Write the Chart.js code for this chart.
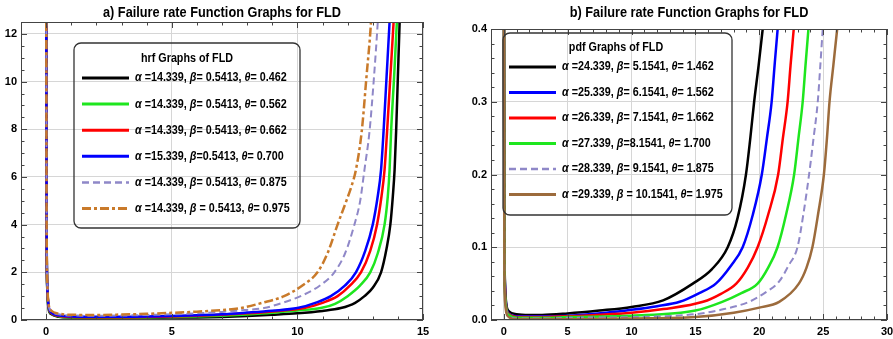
<!DOCTYPE html>
<html>
<head>
<meta charset="utf-8">
<title>Failure rate Function Graphs for FLD</title>
<script src="https://cdn.jsdelivr.net/npm/chart.js@4.4.1/dist/chart.umd.min.js"></script>
<style>
  html, body { margin: 0; padding: 0; background: #fff; }
  #wrap { position: relative; width: 893px; height: 339px; overflow: hidden; }
  #wrap canvas { position: absolute; top: 0; }
  #hrfChart { left: 0; }
  #pdfChart { left: 446px; }
</style>
</head>
<body>
<div id="wrap">
  <canvas id="hrfChart" width="446" height="339"></canvas>
  <canvas id="pdfChart" width="447" height="339"></canvas>
</div>
<script>
/* =====================
   DATA - panel a (hrf)
===================== */
const hrfLabels = [
    'α =14.339, β= 0.5413, θ= 0.462',
    'α =14.339, β= 0.5413, θ= 0.562',
    'α =14.339, β= 0.5413, θ= 0.662',
    'α =15.339, β=0.5413, θ= 0.700',
    'α =14.339, β= 0.5413, θ= 0.875',
    'α =14.339, β = 0.5413, θ= 0.975',
];
const hrfXTicks = [0, 5, 10, 15];
const hrfYTicks = [0, 2, 4, 6, 8, 10, 12];

const hrfX1 = [0.004, 0.02, 0.05, 0.1, 0.2, 0.5, 1, 2, 3, 4, 5, 6, 7, 8, 9, 10, 11, 11.73, 12.3, 12.67, 13, 13.33, 13.55, 13.7, 13.8, 13.87, 13.93, 14.0, 14.07, 14.12];
const hrfY1 = [14, 3.5, 1.2, 0.45, 0.25, 0.14, 0.1, 0.08, 0.08, 0.09, 0.1, 0.11, 0.13, 0.17, 0.22, 0.28, 0.38, 0.5, 0.72, 1.0, 1.35, 2.0, 3.0, 4.0, 5.2, 6.3, 7.9, 10.2, 12.5, 14];

const hrfX2 = [0.004, 0.02, 0.05, 0.1, 0.2, 0.5, 1, 2, 3, 4, 5, 6, 7, 8, 9, 10, 10.93, 11.5, 12.0, 12.5, 12.9, 13.2, 13.47, 13.6, 13.67, 13.73, 13.85, 13.96, 14.02];
const hrfY2 = [14, 3.6, 1.25, 0.5, 0.28, 0.16, 0.11, 0.1, 0.1, 0.11, 0.13, 0.15, 0.18, 0.23, 0.3, 0.4, 0.5, 0.68, 1.0, 1.45, 2.0, 2.8, 4.0, 5.2, 6.3, 7.9, 10.2, 12.5, 14];

const hrfX3 = [0.004, 0.02, 0.05, 0.1, 0.2, 0.5, 1, 2, 3, 4, 5, 6, 7, 8, 9, 10.27, 11, 11.6, 12.1, 12.53, 12.9, 13.17, 13.35, 13.47, 13.57, 13.7, 13.83, 13.9];
const hrfY3 = [14, 3.7, 1.3, 0.55, 0.3, 0.18, 0.13, 0.12, 0.12, 0.13, 0.15, 0.18, 0.22, 0.28, 0.36, 0.5, 0.72, 1.0, 1.45, 2.0, 2.9, 4.0, 5.2, 6.3, 7.9, 10.2, 12.5, 14];

const hrfX4 = [0.004, 0.02, 0.05, 0.1, 0.2, 0.5, 1, 2, 3, 4, 5, 6, 7, 8, 9, 10, 10.8, 11.33, 11.9, 12.33, 12.7, 13.0, 13.2, 13.33, 13.43, 13.55, 13.67, 13.74];
const hrfY4 = [14, 3.8, 1.35, 0.58, 0.32, 0.2, 0.15, 0.14, 0.14, 0.15, 0.17, 0.2, 0.24, 0.31, 0.39, 0.5, 0.75, 1.0, 1.45, 2.0, 2.9, 4.0, 5.2, 6.3, 7.9, 10.2, 12.5, 14];

const hrfX5 = [0.004, 0.02, 0.05, 0.1, 0.2, 0.5, 1, 2, 3, 4, 5, 6, 7, 7.9, 8.67, 9.4, 10.13, 10.9, 11.47, 11.9, 12.27, 12.5, 12.67, 12.87, 13.05, 13.2, 13.28];
const hrfY5 = [14, 3.9, 1.4, 0.62, 0.36, 0.24, 0.19, 0.18, 0.19, 0.21, 0.24, 0.28, 0.34, 0.42, 0.5, 0.72, 1.0, 1.45, 2.0, 2.8, 4.0, 5.0, 6.3, 7.9, 10.2, 12.5, 14];

const hrfX6 = [0.004, 0.02, 0.05, 0.1, 0.2, 0.5, 1, 2, 3, 4, 5, 6, 7, 7.73, 8.6, 9.47, 10.2, 10.8, 11.2, 11.6, 11.95, 12.15, 12.33, 12.56, 12.75, 12.93, 13.0];
const hrfY6 = [14, 4.0, 1.45, 0.66, 0.4, 0.27, 0.22, 0.21, 0.23, 0.26, 0.3, 0.35, 0.42, 0.5, 0.72, 1.0, 1.45, 2.0, 2.8, 4.0, 5.0, 5.6, 6.3, 7.9, 10.2, 12.5, 14];

/* =====================
   DATA - panel b (pdf)
===================== */
const pdfLabels = [
    'α =24.339, β= 5.1541, θ= 1.462',
    'α =25.339, β= 6.1541, θ= 1.562',
    'α =26.339, β= 7.1541, θ= 1.662',
    'α =27.339, β=8.1541, θ= 1.700',
    'α =28.339, β= 9.1541, θ= 1.875',
    'α =29.339, β = 10.1541, θ= 1.975',
];
const pdfXTicks = [0, 5, 10, 15, 20, 25, 30];
const pdfYTicks = [0, 0.1, 0.2, 0.3, 0.4];

const pdfX1 = [0.01, 0.05, 0.1, 0.2, 0.4, 1, 2, 3, 5, 7.5, 10, 12.47, 14.8, 16.3, 17.53, 18.3, 18.96, 19.3, 19.6, 19.95, 20.27, 20.45];
const pdfY1 = [0.5, 0.12, 0.05, 0.022, 0.012, 0.008, 0.007, 0.007, 0.009, 0.013, 0.018, 0.027, 0.05, 0.07, 0.1, 0.14, 0.2, 0.25, 0.3, 0.35, 0.4, 0.43];

const pdfX2 = [0.01, 0.05, 0.1, 0.2, 0.4, 1, 2, 3, 5, 8, 10, 12, 13.77, 15.3, 16.6, 17.8, 18.7, 19.5, 20.2, 20.6, 20.97, 21.2, 21.44, 21.6];
const pdfY2 = [0.5, 0.11, 0.045, 0.019, 0.009, 0.005, 0.005, 0.005, 0.006, 0.01, 0.014, 0.019, 0.025, 0.037, 0.05, 0.075, 0.1, 0.145, 0.2, 0.25, 0.3, 0.35, 0.4, 0.43];

const pdfX3 = [0.01, 0.05, 0.1, 0.2, 0.4, 1, 2, 3, 5, 10, 12.5, 15.6, 17, 18.2, 19.1, 19.87, 20.7, 21.48, 21.85, 22.22, 22.45, 22.7, 22.85];
const pdfY3 = [0.5, 0.1, 0.04, 0.017, 0.008, 0.004, 0.004, 0.004, 0.005, 0.01, 0.015, 0.025, 0.036, 0.05, 0.072, 0.1, 0.145, 0.2, 0.25, 0.3, 0.35, 0.4, 0.43];

const pdfX4 = [0.01, 0.05, 0.1, 0.2, 0.4, 1, 2, 3, 5, 10, 15, 17.1, 18.6, 19.87, 20.7, 21.43, 22.1, 22.73, 23.07, 23.4, 23.62, 23.85, 24.0];
const pdfY4 = [0.5, 0.09, 0.035, 0.015, 0.007, 0.003, 0.003, 0.003, 0.004, 0.006, 0.013, 0.025, 0.037, 0.05, 0.072, 0.1, 0.145, 0.2, 0.25, 0.3, 0.35, 0.4, 0.43];

const pdfX5 = [0.01, 0.05, 0.1, 0.2, 0.4, 1, 2, 3, 5, 10, 15, 17, 19.2, 20.5, 21.56, 22.3, 22.99, 23.45, 23.9, 24.25, 24.58, 24.78, 24.97, 25.1];
const pdfY5 = [0.5, 0.08, 0.03, 0.013, 0.006, 0.002, 0.002, 0.002, 0.003, 0.004, 0.008, 0.014, 0.025, 0.038, 0.053, 0.075, 0.1, 0.145, 0.2, 0.25, 0.3, 0.35, 0.4, 0.43];

const pdfX6 = [0.01, 0.05, 0.1, 0.2, 0.4, 1, 2, 3, 5, 10, 15, 18, 20, 21.56, 23.1, 23.7, 24.16, 24.6, 25.06, 25.3, 25.5, 25.8, 26.1, 26.3];
const pdfY6 = [0.5, 0.07, 0.025, 0.01, 0.004, 0.001, 0.001, 0.001, 0.001, 0.002, 0.004, 0.01, 0.017, 0.025, 0.05, 0.072, 0.1, 0.145, 0.2, 0.25, 0.3, 0.35, 0.4, 0.43];

/* =====================
   HELPERS
===================== */
const FONT = "'Liberation Sans', Arial, sans-serif";

const series = (xs, ys, label, color, width, dash, order) => ({
    label,
    data: xs.map((x, i) => ({ x, y: ys[i] })),
    borderColor: color,
    backgroundColor: color,
    borderWidth: width,
    borderDash: dash || [],
    pointRadius: 0,
    cubicInterpolationMode: 'monotone',
    fill: false,
    clip: 0,
    order,
});

// text squeezed horizontally, like the condensed face of the original
const narrowText = (ctx, text, x, y, sx) => {
    ctx.save();
    ctx.translate(x, y);
    ctx.scale(sx, 1);
    ctx.fillText(text, 0, 0);
    ctx.restore();
    return ctx.measureText(text).width * sx;
};

// title centred over the plot frame
const panelTitle = {
    id: 'panelTitle',
    afterDraw(chart, args, opts) {
        const { ctx, chartArea: a } = chart;
        ctx.save();
        ctx.font = 'bold 15px ' + FONT;
        ctx.fillStyle = '#000';
        ctx.textAlign = 'center';
        ctx.textBaseline = 'middle';
        narrowText(ctx, opts.text, (a.left + a.right) / 2, opts.y, 0.85);
        ctx.restore();
    },
};

// Mathematica-like frame with inward ticks on all four sides
const frameTicks = {
    id: 'frameTicks',
    afterDatasetsDraw(chart, args, opts) {
        const { ctx, chartArea: a, scales: { x, y } } = chart;
        ctx.save();
        ctx.strokeStyle = '#444';
        ctx.lineWidth = 1;
        ctx.strokeRect(a.left + 0.5, a.top + 0.5, a.right - a.left - 1, a.bottom - a.top - 1);

        const marks = (min, max, minor, major) => {
            const out = [];
            for (let i = Math.ceil(min / minor - 1e-9); i * minor <= max + 1e-9; i++) {
                const v = i * minor;
                const r = v / major;
                out.push({ v, big: Math.abs(r - Math.round(r)) < 1e-6 });
            }
            return out;
        };

        ctx.beginPath();
        marks(x.min, x.max, opts.xMinor, opts.xMajor).forEach(({ v, big }) => {
            const px = Math.round(x.getPixelForValue(v)) + 0.5;
            const len = big ? 6 : 3.5;
            ctx.moveTo(px, a.bottom); ctx.lineTo(px, a.bottom - len);
            ctx.moveTo(px, a.top); ctx.lineTo(px, a.top + len);
        });
        marks(y.min, y.max, opts.yMinor, opts.yMajor).forEach(({ v, big }) => {
            const py = Math.round(y.getPixelForValue(v)) + 0.5;
            const len = big ? 6 : 3.5;
            ctx.moveTo(a.left, py); ctx.lineTo(a.left + len, py);
            ctx.moveTo(a.right, py); ctx.lineTo(a.right - len, py);
        });
        ctx.stroke();
        ctx.restore();
    },
};

// framed legend inside the plot (no fill, grid shows through)
const boxLegend = {
    id: 'boxLegend',
    afterDatasetsDraw(chart, args, o) {
        const { ctx } = chart;
        const SX = 0.86;
        ctx.save();
        ctx.strokeStyle = '#333';
        ctx.lineWidth = 1.3;
        ctx.beginPath();
        ctx.roundRect(o.box[0], o.box[1], o.box[2], o.box[3], 7);
        ctx.stroke();

        ctx.fillStyle = '#000';
        ctx.textBaseline = 'middle';
        ctx.textAlign = 'center';
        ctx.font = 'bold 12.5px ' + FONT;
        narrowText(ctx, o.title, o.titleX, o.titleY, SX);

        ctx.textAlign = 'left';
        chart.data.datasets.forEach((ds, i) => {
            const ry = o.rowY + i * o.rowGap;
            ctx.save();
            ctx.strokeStyle = ds.borderColor;
            ctx.lineWidth = ds.borderWidth + 0.5;
            ctx.setLineDash(ds.borderDash);
            ctx.beginPath();
            ctx.moveTo(o.lineX0, ry);
            ctx.lineTo(o.lineX1, ry);
            ctx.stroke();
            ctx.restore();

            let tx = o.textX;
            ds.label.split(/([αβθ])/).forEach((part) => {
                if (!part) return;
                ctx.font = (/[αβθ]/.test(part) ? 'italic bold 12.5px ' : 'bold 12.5px ') + FONT;
                tx += narrowText(ctx, part, tx, ry, SX);
            });
        });
        ctx.restore();
    },
};

const makeScales = (xr, xTicks, yr, yTicks, yWidth, yFmt) => {
    const tickFont = { family: FONT, size: 11, weight: 'bold' };
    const grid = { color: '#d6d6d6', lineWidth: 1, drawTicks: false };
    return {
        x: {
            type: 'linear', min: xr[0], max: xr[1],
            grid, border: { display: false },
            ticks: { font: tickFont, color: '#000', padding: 5, maxRotation: 0 },
            afterBuildTicks: (s) => { s.ticks = xTicks.map((v) => ({ value: v })); },
            afterFit: (s) => { s.height = 19; s.paddingLeft = 0; s.paddingRight = 0; },
        },
        y: {
            type: 'linear', min: yr[0], max: yr[1],
            grid, border: { display: false },
            ticks: { font: tickFont, color: '#000', padding: 4, callback: yFmt },
            afterBuildTicks: (s) => { s.ticks = yTicks.map((v) => ({ value: v })); },
            afterFit: (s) => { s.width = yWidth; s.paddingTop = 0; s.paddingBottom = 0; },
        },
    };
};

/* =====================
   PANEL A
===================== */
new Chart(document.getElementById('hrfChart'), {
    type: 'line',
    data: {
        datasets: [
            series(hrfX1, hrfY1, hrfLabels[0], '#000000', 2.5, null, 6),
            series(hrfX2, hrfY2, hrfLabels[1], '#1ee61e', 2.5, null, 5),
            series(hrfX3, hrfY3, hrfLabels[2], '#ff0000', 2.5, null, 4),
            series(hrfX4, hrfY4, hrfLabels[3], '#0000ff', 2.5, null, 3),
            series(hrfX5, hrfY5, hrfLabels[4], '#8f88c8', 2, [7, 4], 2),
            series(hrfX6, hrfY6, hrfLabels[5], '#c97a2a', 2.5, [9, 3, 3, 3], 1),
        ],
    },
    options: {
        responsive: false,
        animation: false,
        events: [],
        devicePixelRatio: 1,
        layout: { padding: { left: 0, right: 23, top: 22, bottom: 0 } },
        scales: makeScales([-1, 15], hrfXTicks, [0, 12.5], hrfYTicks, 21, (v) => String(v)),
        plugins: {
            legend: { display: false },
            tooltip: { enabled: false },
            panelTitle: { text: 'a) Failure rate Function Graphs for FLD', y: 13 },
            frameTicks: { xMinor: 1, xMajor: 5, yMinor: 0.5, yMajor: 2 },
            boxLegend: {
                box: [74, 43, 226, 185],
                title: 'hrf Graphs of FLD', titleX: 187, titleY: 59,
                rowY: 78, rowGap: 26.1,
                lineX0: 82, lineX1: 129, textX: 135,
            },
        },
    },
    plugins: [panelTitle, frameTicks, boxLegend],
});

/* =====================
   PANEL B
===================== */
new Chart(document.getElementById('pdfChart'), {
    type: 'line',
    data: {
        datasets: [
            series(pdfX1, pdfY1, pdfLabels[0], '#000000', 2.5, null, 6),
            series(pdfX2, pdfY2, pdfLabels[1], '#0000ff', 2.5, null, 5),
            series(pdfX3, pdfY3, pdfLabels[2], '#ff0000', 2.5, null, 4),
            series(pdfX4, pdfY4, pdfLabels[3], '#1ee61e', 2.5, null, 3),
            series(pdfX5, pdfY5, pdfLabels[4], '#8f88c8', 2, [7, 4], 2),
            series(pdfX6, pdfY6, pdfLabels[5], '#9c6b3c', 2.5, null, 1),
        ],
    },
    options: {
        responsive: false,
        animation: false,
        events: [],
        devicePixelRatio: 1,
        layout: { padding: { left: 0, right: 6, top: 29, bottom: 0 } },
        scales: makeScales([-1, 30], pdfXTicks, [0, 0.4], pdfYTicks, 45, (v) => Number(v).toFixed(1)),
        plugins: {
            legend: { display: false },
            tooltip: { enabled: false },
            panelTitle: { text: 'b) Failure rate Function Graphs for FLD', y: 13 },
            frameTicks: { xMinor: 1, xMajor: 5, yMinor: 0.02, yMajor: 0.1 },
            boxLegend: {
                box: [57, 33, 229, 182],
                title: 'pdf Graphs of FLD', titleX: 170, titleY: 48,
                rowY: 67, rowGap: 25.5,
                lineX0: 63, lineX1: 110, textX: 116,
            },
        },
    },
    plugins: [panelTitle, frameTicks, boxLegend],
});
</script>
</body>
</html>
